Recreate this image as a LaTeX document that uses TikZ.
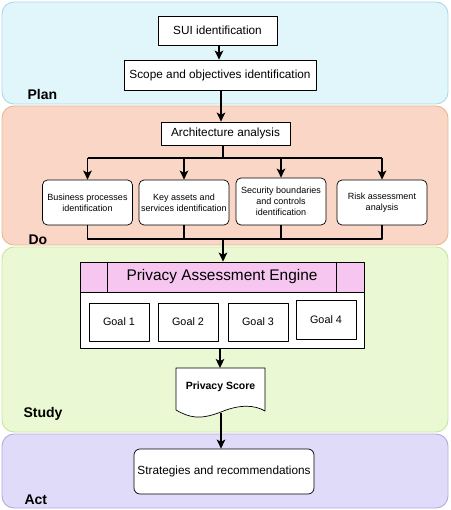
\documentclass[tikz,border=0pt]{standalone}
\usepackage{fontspec}
\setmainfont{Liberation Sans}
\usetikzlibrary{arrows.meta}
\definecolor{planfill}{HTML}{E0F6FB}
\definecolor{planline}{HTML}{A9D9EA}
\definecolor{dofill}{HTML}{FAD6C6}
\definecolor{doline}{HTML}{E9B98F}
\definecolor{studyfill}{HTML}{EAF8D4}
\definecolor{studyline}{HTML}{C8E5A0}
\definecolor{actfill}{HTML}{E1DBFA}
\definecolor{actline}{HTML}{B4AADF}
\definecolor{enginefill}{HTML}{F7C6F0}
\begin{document}
\begin{tikzpicture}[x=1pt, y=-1pt, line join=round, >={Stealth[length=9pt,width=8.5pt,inset=2pt]},
	band/.style={rounded corners=12pt, line width=0.9pt},
	phase/.style={font=\fontsize{14}{16}\selectfont\bfseries, anchor=west},
	box/.style={draw, line width=0.7pt, fill=white, align=center, inner sep=1pt, font=\fontsize{11.8}{13}\selectfont},
	subbox/.style={box, rounded corners=5pt, minimum width=90pt, minimum height=45pt, font=\fontsize{9}{11}\selectfont},
	goalbox/.style={box, minimum width=60pt, minimum height=38pt, font=\fontsize{10.8}{12}\selectfont},
	flow/.style={->, line width=1.8pt},
	link/.style={line width=1.8pt}]
	\useasboundingbox (0,0) rectangle (450,510);
	% phase bands
	\draw[band, draw=planline, fill=planfill] (2,2) rectangle (448,104);
	\draw[band, draw=doline, fill=dofill] (2,106) rectangle (448,245);
	\draw[band, draw=studyline, fill=studyfill] (2,247) rectangle (448,432);
	\draw[band, draw=actline, fill=actfill] (2,434) rectangle (448,508);
	\node[phase] (plan) at (24,94) {Plan};
	\node[phase] (do) at (25,240) {Do};
	\node[phase] (study) at (20,414) {Study};
	\node[phase] (act) at (21,500) {Act};
	% plan
	\node[box, minimum width=119pt, minimum height=29pt] (sui) at (217.5,30.5) {SUI identification};
	\node[box, minimum width=192pt, minimum height=30pt] (scope) at (220,75) {Scope and objectives identification};
	% do
	\node[box, minimum width=129pt, minimum height=23pt] (arch) at (225.5,133.5) {Architecture analysis};
	\node[subbox] (bpi) at (87.5,202.5) {Business processes\\identification};
	\node[subbox] (kas) at (184,202.5) {Key assets and\\services identification};
	\node[subbox, minimum height=47pt] (sbc) at (281,201.5) {Security boundaries\\and controls\\identification};
	\node[subbox] (raa) at (382,202.5) {Risk assessment\\analysis};
	\coordinate (split) at (223,158);
	\coordinate (join) at (223,239);
	\draw[link] (arch.south -| split) -- (split);
	\draw[link] (bpi.north |- split) -- (raa.north |- split);
	\foreach \n in {bpi,kas,sbc,raa}
		\draw[flow] (\n.north |- split) -- (\n.north);
	\draw[link] (bpi.south) -- (bpi.south |- join) -- (raa.south |- join) -- (raa.south);
	\draw[link] (kas.south) -- (kas.south |- join);
	\draw[link] (sbc.south) -- (sbc.south |- join);
	% study
	\node[box, fill=enginefill, minimum width=284pt, minimum height=30pt, font=\fontsize{15.4}{17}\selectfont] (engine) at (222,277) {Privacy Assessment Engine};
	\draw[line width=0.7pt] ([xshift=28pt]engine.north west) -- ([xshift=28pt]engine.south west)
		([xshift=-28pt]engine.north east) -- ([xshift=-28pt]engine.south east);
	\node[box, minimum width=284pt, minimum height=56pt, anchor=north] (body) at (engine.south) {};
	\node[goalbox] (g1) at (119,322) {Goal 1};
	\node[goalbox] (g2) at (188,322) {Goal 2};
	\node[goalbox] (g3) at (258,322) {Goal 3};
	\node[goalbox, minimum height=39pt] (g4) at (326,319.5) {Goal 4};
	\draw[line width=0.7pt, fill=white] (176,368) -- (265,368) -- (265,411)
		.. controls (255,405) and (240,404) .. (221,412)
		.. controls (200,420) and (190,418) .. (176,410) -- cycle;
	\node[font=\fontsize{10.5}{12}\selectfont\bfseries] (score) at (220.5,387) {Privacy Score};
	\coordinate (scorebot) at (221,413);
	\draw[flow] (join) -- (engine.north -| join);
	\draw[flow] (body.south -| 220,0) -- (220,368);
	% act
	\node[box, rounded corners=6pt, minimum width=180pt, minimum height=45pt] (strat) at (224,471.5) {Strategies and recommendations};
	\draw[flow] (scorebot) -- (strat.north -| scorebot);
	% plan arrows
	\draw[flow] (sui.south -| 219,0) -- (scope.north -| 219,0);
	\draw[flow] (scope.south -| 221,0) -- (arch.north -| 221,0);
\end{tikzpicture}
\end{document}
